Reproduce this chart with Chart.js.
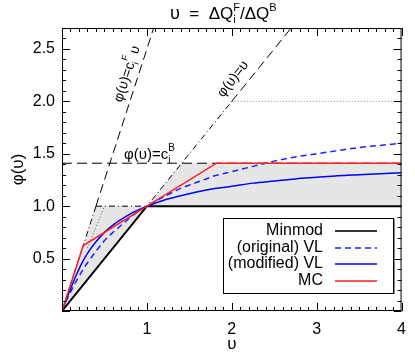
<!DOCTYPE html>
<html>
<head>
<meta charset="utf-8">
<script src="https://cdn.jsdelivr.net/npm/chart.js@4.4.1/dist/chart.umd.min.js"></script>
<style>
  html, body { margin: 0; padding: 0; background: #fff; }
</style>
</head>
<body>
<canvas id="chart" width="415" height="357"></canvas>
<script>
// Limiter curves
const nu = [0, 0.05, 0.1, 0.15, 0.2, 0.25, 0.3, 0.4, 0.5, 0.6, 0.7, 0.8, 0.9, 1,
            1.2, 1.4, 1.6, 1.8, 2, 2.25, 2.5, 2.75, 3, 3.25, 3.5, 3.75, 4];
const vlOriginal = [0, 0.095, 0.18, 0.26, 0.33, 0.4, 0.46, 0.57, 0.67, 0.75, 0.82, 0.89, 0.95, 1,
                    1.09, 1.17, 1.23, 1.29, 1.33, 1.38, 1.43, 1.47, 1.5, 1.53, 1.56, 1.58, 1.6];
const vlModified = [0, 0.11, 0.21, 0.31, 0.4, 0.48, 0.55, 0.66, 0.75, 0.82, 0.875, 0.925, 0.965, 1,
                    1.057, 1.1, 1.138, 1.168, 1.19, 1.22, 1.24, 1.26, 1.275, 1.29, 1.3, 1.31, 1.32];
const mcX = [0, 0.25, 1.82, 4];
const mcY = [0, 0.625, 1.41, 1.41];
const minmodX = [0, 1, 4];
const minmodY = [0, 1, 1];

// Grey TVD region (upper edge then back along minmod)
const regionX = [0, 0.4, 1, 1.41, 4, 4, 1, 0];
const regionY = [0, 1, 1, 1.41, 1.41, 1, 1, 0];

// Guide lines
const cfDashDotX = [0, 0.4], cfDashDotY = [0, 1];
const cfDashX = [0.4, 1.08], cfDashY = [1, 2.7];
const idDashDotX = [0, 2], idDashDotY = [0, 2];
const idDashX = [2, 2.7], idDashY = [2, 2.7];
const oneDashDotX = [0.4, 1], oneDashDotY = [1, 1];
const cbX = [0, 4], cbY = [1.41, 1.41];
const twoDotX = [2, 4], twoDotY = [2, 2];
const steepDotX = [0.3, 0.5], steepDotY = [0.6, 1];

const xTicks = [0, 1, 2, 3, 4];
const yTicks = [0, 0.5, 1, 1.5, 2, 2.5];
const legendLabels = ["Minmod", "(original) VL", "(modified) VL", "MC"];

const FONT = '"Liberation Sans", "DejaVu Sans", sans-serif';

function pts(xs, ys) {
    return xs.map((x, i) => ({ x: x, y: ys[i] }));
}

function line(xs, ys, color, width, dash, order, smooth) {
    return {
        data: pts(xs, ys), showLine: true, borderColor: color, borderWidth: width,
        borderDash: dash, pointRadius: 0, fill: false, order: order,
        cubicInterpolationMode: smooth ? 'monotone' : 'default', tension: 0
    };
}

// Draws text pieces with super/subscripts; a piece with keep=true does not advance
function richWidth(ctx, parts) {
    let w = 0, held = 0;
    parts.forEach(p => {
        ctx.font = p[1] + 'px ' + FONT;
        const pw = ctx.measureText(p[0]).width;
        if (p[3]) { held = pw; } else { w += Math.max(pw, held); held = 0; }
    });
    return w;
}
function richText(ctx, x, y, parts) {
    let cx = x, held = 0;
    ctx.textAlign = 'left';
    ctx.textBaseline = 'alphabetic';
    parts.forEach(p => {
        ctx.font = p[1] + 'px ' + FONT;
        ctx.fillText(p[0], cx, y + (p[2] || 0));
        const pw = ctx.measureText(p[0]).width;
        if (p[3]) { held = pw; } else { cx += Math.max(pw, held); held = 0; }
    });
}

const decor = {
    id: 'decor',
    afterDatasetsDraw(chart) {
        const ctx = chart.ctx, a = chart.chartArea;
        const xs = chart.scales.x, ys = chart.scales.y;
        ctx.save();
        ctx.fillStyle = '#000';

        // annotations
        richText(ctx, 124, 159, [['φ(υ)=c', 15, 0], ['B', 10, -8, true], ['i', 10, 4]]);

        const cf = [['φ(υ)=c', 14, 0], ['F', 9, -8, true], ['i', 9, 4], [' υ', 14, 0]];
        ctx.save();
        ctx.translate(127, 74);
        ctx.rotate(-72 * Math.PI / 180);
        richText(ctx, -richWidth(ctx, cf) / 2, 4, cf);
        ctx.restore();

        const id = [['φ(υ)=υ', 14, 0]];
        ctx.save();
        ctx.translate(233, 79);
        ctx.rotate(-52 * Math.PI / 180);
        richText(ctx, -richWidth(ctx, id) / 2, 4, id);
        ctx.restore();

        // frame
        ctx.strokeStyle = '#000';
        ctx.lineWidth = 1;
        ctx.strokeRect(a.left + 0.5, a.top + 0.5, a.right - a.left - 1, a.bottom - a.top - 1);

        // inward ticks
        ctx.beginPath();
        for (let i = 0; i <= 40; i++) {
            const v = i / 10, px = Math.round(xs.getPixelForValue(v)) + 0.5;
            const len = (i % 10 === 0) ? 8 : 4;
            ctx.moveTo(px, a.bottom); ctx.lineTo(px, a.bottom - len);
            ctx.moveTo(px, a.top); ctx.lineTo(px, a.top + len);
        }
        for (let i = 0; i <= 27; i++) {
            const v = i / 10, py = Math.round(ys.getPixelForValue(v)) + 0.5;
            const len = (i % 5 === 0) ? 8 : 4;
            ctx.moveTo(a.left, py); ctx.lineTo(a.left + len, py);
            ctx.moveTo(a.right, py); ctx.lineTo(a.right - len, py);
        }
        ctx.stroke();

        // legend
        const bx = 223, by = 218, bw = 170, bh = 75;
        ctx.fillStyle = '#fff';
        ctx.fillRect(bx, by, bw, bh);
        ctx.strokeStyle = '#000';
        ctx.strokeRect(bx + 0.5, by + 0.5, bw, bh);
        ctx.strokeStyle = '#888';
        ctx.beginPath(); ctx.moveTo(bx + bw + 1.5, by + 1); ctx.lineTo(bx + bw + 1.5, by + bh + 1); ctx.stroke();
        const rows = [231, 248, 264, 281];
        const styles = [['#333', 2, []], ['#2020ff', 1.5, [6, 4]], ['#0000ff', 1.5, []], ['#ff2020', 1.5, []]];
        ctx.font = '16px ' + FONT;
        ctx.textAlign = 'right';
        ctx.textBaseline = 'middle';
        legendLabels.forEach((t, i) => {
            ctx.fillStyle = '#000';
            ctx.fillText(t, 323, rows[i]);
            ctx.strokeStyle = styles[i][0];
            ctx.lineWidth = styles[i][1];
            ctx.setLineDash(styles[i][2]);
            ctx.beginPath(); ctx.moveTo(335, rows[i]); ctx.lineTo(377, rows[i]); ctx.stroke();
        });
        ctx.setLineDash([]);

        // titles
        ctx.fillStyle = '#000';
        richText(ctx, 170, 19, [['υ', 18, 0], ['  =  ', 17, 0], ['ΔQ', 17, 0], ['F', 11, -8, true], ['i', 11, 4], ['/ΔQ', 17, 0], ['B', 11, -8]]);
        ctx.font = '17px ' + FONT;
        ctx.textAlign = 'center';
        ctx.textBaseline = 'middle';
        ctx.fillText('υ', (a.left + a.right) / 2, 344);
        ctx.save();
        ctx.translate(18, (a.top + a.bottom) / 2);
        ctx.rotate(-Math.PI / 2);
        ctx.fillText('φ(υ)', 0, 0);
        ctx.restore();
        ctx.restore();
    }
};

const region = {
    data: pts(regionX, regionY), showLine: true, borderWidth: 0, borderColor: 'rgba(0,0,0,0)',
    backgroundColor: '#e6e6e6', fill: 'shape', pointRadius: 0, order: 20
};

new Chart(document.getElementById('chart'), {
    type: 'scatter',
    data: {
        datasets: [
            region,
            line(cfDashDotX, cfDashDotY, '#000', 1, [6, 3, 1, 3], 15),
            line(cfDashX, cfDashY, '#000', 1, [9, 5], 15),
            line(idDashDotX, idDashDotY, '#000', 1, [6, 3, 1, 3], 15),
            line(idDashX, idDashY, '#000', 1, [9, 5], 15),
            line(oneDashDotX, oneDashDotY, '#000', 1, [6, 3, 1, 3], 15),
            line(cbX, cbY, '#000', 1, [10, 5], 15),
            line(twoDotX, twoDotY, '#888', 1, [1, 2], 15),
            line(steepDotX, steepDotY, '#555', 1, [1, 2], 15),
            line(minmodX, minmodY, '#000', 2, [], 4),
            line(nu, vlOriginal, '#2020ff', 1.5, [6, 4], 3, true),
            line(nu, vlModified, '#0000ff', 1.5, [], 2, true),
            line(mcX, mcY, '#ff2020', 1.5, [], 1)
        ]
    },
    options: {
        responsive: false,
        animation: false,
        layout: { padding: { left: 0, right: 11, top: 28, bottom: 0 } },
        plugins: { legend: { display: false }, tooltip: { enabled: false } },
        scales: {
            x: {
                type: 'linear', min: 0, max: 4,
                afterBuildTicks: s => { s.ticks = xTicks.map(v => ({ value: v })); },
                afterFit: s => { s.height = 46; },
                grid: { display: false, drawTicks: false },
                border: { display: false },
                ticks: {
                    padding: 9, color: '#000', font: { family: FONT, size: 16 },
                    callback: v => (v === 0 ? '' : String(v))
                }
            },
            y: {
                type: 'linear', min: 0, max: 2.7,
                afterBuildTicks: s => { s.ticks = yTicks.map(v => ({ value: v })); },
                afterFit: s => { s.width = 62; },
                grid: { display: false, drawTicks: false },
                border: { display: false },
                ticks: {
                    padding: 7, color: '#000', font: { family: FONT, size: 16 },
                    callback: v => (v === 0 ? '' : v.toFixed(1))
                }
            }
        }
    },
    plugins: [decor]
});
</script>
</body>
</html>
